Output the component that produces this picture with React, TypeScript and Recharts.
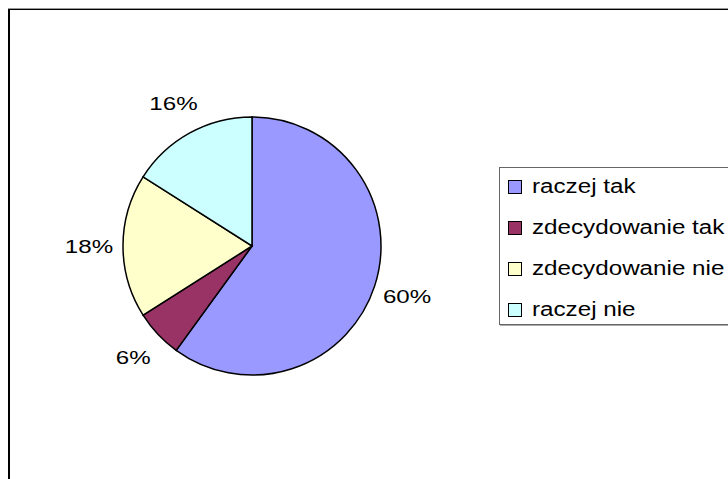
import React from "react";
import { PieChart, Pie, Cell, Legend } from "recharts";

const categories = ["raczej tak", "zdecydowanie tak", "zdecydowanie nie", "raczej nie"];
const shares = [60, 6, 18, 16];
const colors = ["#9999FF", "#993366", "#FFFFCC", "#CCFFFF"];

const data = categories.map((name, i) => ({ name, value: shares[i] }));

const RAD = Math.PI / 180;
const FONT = "'Liberation Sans', Arial, sans-serif";

// Excel-style labels sit outside the slice, text is a bit wide
function renderLabel(props: any) {
  const { cx, cy, midAngle, outerRadius, value } = props;
  const r = outerRadius + 34;
  const x = cx + r * Math.cos(-midAngle * RAD);
  const y = cy + r * Math.sin(-midAngle * RAD);
  return (
    <g transform={`translate(${x},${y})`}>
      <text
        transform="scale(1.27,1)"
        textAnchor="middle"
        dominantBaseline="central"
        fontFamily={FONT}
        fontSize={19}
        fill="#000"
      >
        {value}%
      </text>
    </g>
  );
}

function LegendBox() {
  return (
    <div
      style={{
        border: "1px solid #666",
        boxShadow: "1px 1px 0 #aaa",
        width: 240,
        height: 158,
        boxSizing: "border-box",
        paddingTop: 12,
        paddingLeft: 8,
        background: "#fff",
      }}
    >
      {categories.map((c, i) => (
        <div
          key={c}
          style={{ height: 41, display: "flex", alignItems: "flex-start", whiteSpace: "nowrap" }}
        >
          <span
            style={{
              display: "inline-block",
              width: 14,
              height: 14,
              boxSizing: "border-box",
              border: "1.5px solid #000",
              background: colors[i],
              marginRight: 10,
            }}
          />
          <span
            style={{
              display: "inline-block",
              fontFamily: FONT,
              fontSize: 20,
              lineHeight: "20px",
              marginTop: -4,
              color: "#000",
              transform: "scaleX(1.21)",
              transformOrigin: "left center",
            }}
          >
            {c}
          </span>
        </div>
      ))}
    </div>
  );
}

export default function App() {
  return (
    <div
      style={{
        position: "absolute",
        left: 0,
        top: 0,
        width: 728,
        height: 479,
        overflow: "hidden",
        background: "#fff",
      }}
    >
      <div
        style={{
          position: "absolute",
          left: 8,
          top: 8,
          width: 760,
          height: 520,
          borderTop: "1px solid #999",
        }}
      />
      <div
        style={{
          position: "absolute",
          left: 8,
          top: 9,
          width: 760,
          height: 520,
          borderTop: "1px solid #000",
          borderLeft: "2px solid #000",
        }}
      />
      <div style={{ position: "absolute", left: 0, top: 0 }}>
        <PieChart width={728} height={479} margin={{ top: 0, right: 0, bottom: 0, left: 0 }}>
          <Pie
            data={data}
            dataKey="value"
            nameKey="name"
            cx={252}
            cy={246}
            outerRadius={129}
            startAngle={90}
            endAngle={-270}
            stroke="#000"
            strokeWidth={1.5}
            label={renderLabel}
            labelLine={false}
            isAnimationActive={false}
          >
            {data.map((d, i) => (
              <Cell key={d.name} fill={colors[i]} />
            ))}
          </Pie>
          <Legend
            content={() => <LegendBox />}
            wrapperStyle={{ position: "absolute", left: 499, top: 167, width: 240 }}
          />
        </PieChart>
      </div>
    </div>
  );
}
